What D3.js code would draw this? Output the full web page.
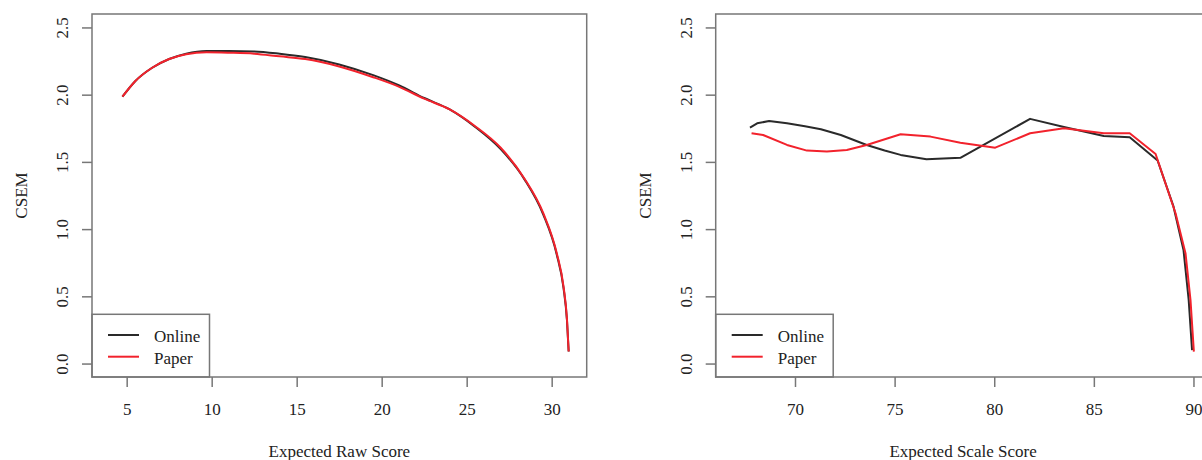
<!DOCTYPE html>
<html>
<head>
	<meta charset="utf-8">
	<title>CSEM curves</title>
	<script src="https://d3js.org/d3.v7.min.js"></script>
	<style>
		body { margin: 0; background: #fff; }
		svg text { font-family: "Liberation Serif", "Times New Roman", serif; fill: #222; }
		.box { fill: none; stroke: #777; stroke-width: 1.5; }
		.tick line { stroke: #777; stroke-width: 1.5; }
	</style>
</head>
<body>
<script>
// Left panel: CSEM by expected raw score
var rawX       = [4.75, 5.5, 6.5, 7.5, 8.5, 9.7, 11, 12.5, 14, 15.5, 17.5, 19.5, 21, 22.5, 24, 25.5, 27, 28.4, 29.5, 30.3, 30.7, 30.9, 31.0];
var rawOnline  = [1.985, 2.10, 2.20, 2.265, 2.305, 2.325, 2.325, 2.322, 2.305, 2.28, 2.225, 2.145, 2.07, 1.975, 1.89, 1.76, 1.595, 1.37, 1.11, 0.81, 0.56, 0.32, 0.09];
var rawPaper   = [1.985, 2.10, 2.20, 2.265, 2.30, 2.315, 2.312, 2.305, 2.285, 2.265, 2.21, 2.13, 2.06, 1.97, 1.89, 1.765, 1.605, 1.375, 1.12, 0.82, 0.57, 0.33, 0.09];

// Right panel: CSEM by expected scale score
var scaleOnlineX = [67.74, 68.1, 68.7, 69.6, 70.5, 71.3, 72.3, 73.6, 74.5, 75.3, 76.6, 78.3, 81.8, 83.5, 85.5, 86.8, 88.2, 89.0, 89.5, 89.76, 89.93];
var scaleOnline  = [1.755, 1.787, 1.804, 1.787, 1.765, 1.743, 1.70, 1.626, 1.585, 1.552, 1.52, 1.53, 1.82, 1.76, 1.693, 1.683, 1.51, 1.167, 0.845, 0.474, 0.10];
var scalePaperX  = [67.82, 68.4, 69.6, 70.6, 71.6, 72.6, 73.6, 75.3, 76.8, 78.3, 80.05, 81.8, 83.5, 85.5, 86.8, 88.1, 89.1, 89.6, 89.85, 90.02];
var scalePaper   = [1.713, 1.70, 1.626, 1.584, 1.577, 1.589, 1.626, 1.706, 1.688, 1.643, 1.606, 1.713, 1.75, 1.713, 1.713, 1.559, 1.118, 0.821, 0.474, 0.089];

var yTicks = [0, 0.5, 1, 1.5, 2, 2.5];
var rawTicks = [5, 10, 15, 20, 25, 30];
var scaleTicks = [70, 75, 80, 85, 90];
var seriesNames = ["Online", "Paper"];
var seriesColors = ["#2a2a2a", "#f2222c"];

var svg = d3.select("body").append("svg")
	.attr("width", 1202)
	.attr("height", 460);

var plotTop = 14, plotBottom = 377;

function panel(left, right, xDomain, xTicks, xTitle, series, curve) {
	var x = d3.scaleLinear().domain(xDomain).range([left, right]);
	var y = d3.scaleLinear().domain([-0.1, 2.6]).range([plotBottom, plotTop]);
	var g = svg.append("g");

	// y axis
	var ya = g.append("g")
		.attr("transform", "translate(" + left + ",0)")
		.call(d3.axisLeft(y).tickValues(yTicks).tickSize(10).tickFormat(d3.format(".1f")));
	ya.select(".domain").remove();
	ya.selectAll("text")
		.attr("x", null).attr("dy", null)
		.attr("transform", "translate(-24,0) rotate(-90)")
		.attr("text-anchor", "middle")
		.style("font-size", "17px");

	// x axis
	var xa = g.append("g")
		.attr("transform", "translate(0," + plotBottom + ")")
		.call(d3.axisBottom(x).tickValues(xTicks).tickSize(10).tickFormat(d3.format("d")));
	xa.select(".domain").remove();
	xa.selectAll("text")
		.attr("y", 38).attr("dy", null)
		.style("font-size", "17px");

	g.append("text")
		.attr("transform", "translate(" + (left - 65) + "," + ((plotTop + plotBottom) / 2) + ") rotate(-90)")
		.attr("text-anchor", "middle")
		.style("font-size", "17px")
		.text("CSEM");

	g.append("text")
		.attr("x", (left + right) / 2)
		.attr("y", plotBottom + 80)
		.attr("text-anchor", "middle")
		.style("font-size", "17px")
		.text(xTitle);

	var line = d3.line()
		.x(function(d) { return x(d[0]); })
		.y(function(d) { return y(d[1]); })
		.curve(curve);

	series.forEach(function(s, i) {
		g.append("path")
			.datum(d3.zip(s.x, s.y))
			.attr("fill", "none")
			.attr("stroke", seriesColors[i])
			.attr("stroke-width", 2)
			.attr("stroke-linejoin", "round")
			.attr("d", line);
	});

	g.append("rect").attr("class", "box")
		.attr("x", left).attr("y", plotTop)
		.attr("width", right - left).attr("height", plotBottom - plotTop);

	// legend, bottom-left corner
	var lg = g.append("g").attr("transform", "translate(" + left + "," + plotBottom + ")");
	lg.append("rect").attr("class", "box")
		.attr("x", 0).attr("y", -62.7)
		.attr("width", 117.5).attr("height", 62.7);
	seriesNames.forEach(function(name, i) {
		var ry = -42 + i * 21.7;
		lg.append("line")
			.attr("x1", 16).attr("x2", 47)
			.attr("y1", ry).attr("y2", ry)
			.attr("stroke", seriesColors[i])
			.attr("stroke-width", 2);
		lg.append("text")
			.attr("x", 62).attr("y", ry + 7)
			.style("font-size", "17px")
			.text(name);
	});
}

panel(92, 586.7, [2.96, 32.06], rawTicks, "Expected Raw Score",
	[{x: rawX, y: rawOnline}, {x: rawX, y: rawPaper}], d3.curveMonotoneX);

panel(715.7, 1210.4, [66.02, 90.85], scaleTicks, "Expected Scale Score",
	[{x: scaleOnlineX, y: scaleOnline}, {x: scalePaperX, y: scalePaper}], d3.curveLinear);
</script>
</body>
</html>
